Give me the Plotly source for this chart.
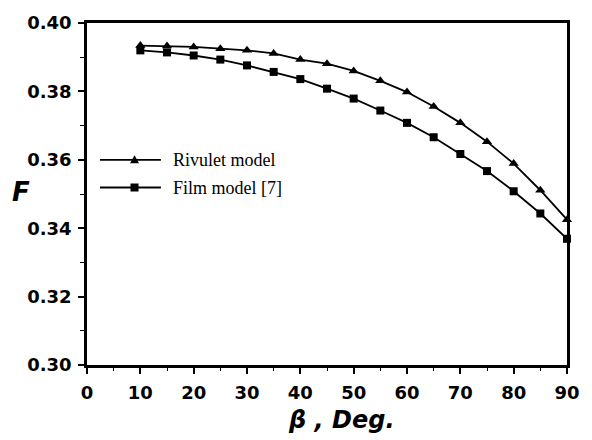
import plotly.graph_objects as go

# Inclination angle beta (degrees) and the factor F for both models
beta_deg = [10, 15, 20, 25, 30, 35, 40, 45, 50, 55, 60, 65, 70, 75, 80, 85, 90]
f_rivulet = [0.3934, 0.3933, 0.3930, 0.3925, 0.3920, 0.3911, 0.3893, 0.3881, 0.3860,
             0.3831, 0.3798, 0.3756, 0.3708, 0.3653, 0.3589, 0.3511, 0.3425]
f_film = [0.3920, 0.3914, 0.3905, 0.3893, 0.3876, 0.3857, 0.3836, 0.3808, 0.3779,
          0.3744, 0.3708, 0.3666, 0.3617, 0.3567, 0.3508, 0.3443, 0.3369]

series_names = ["Rivulet model", "Film model [7]"]
x_ticks = [0, 10, 20, 30, 40, 50, 60, 70, 80, 90]
y_ticks = [0.30, 0.32, 0.34, 0.36, 0.38, 0.40]

tick_font = dict(family="DejaVu Sans", size=18, color="black", weight="bold")

fig = go.Figure()
fig.add_trace(go.Scatter(
    x=beta_deg, y=f_rivulet, mode="lines+markers", name=series_names[0],
    line=dict(color="black", width=1.8),
    marker=dict(symbol="triangle-up", size=9, color="black"),
    cliponaxis=False, showlegend=False,
))
fig.add_trace(go.Scatter(
    x=beta_deg, y=f_film, mode="lines+markers", name=series_names[1],
    line=dict(color="black", width=1.8),
    marker=dict(symbol="square", size=8, color="black"),
    cliponaxis=False, showlegend=False,
))

# Hand-drawn legend keys: a line with a marker in the middle, plus a serif label
legend_rows = [(0.600, "triangle"), (0.519, "square")]
shapes = []
annotations = []
for (ypos, sym), name in zip(legend_rows, series_names):
    shapes.append(dict(type="line", xref="paper", yref="paper",
                       x0=0.027, x1=0.154, y0=ypos, y1=ypos,
                       line=dict(color="black", width=1.8)))
    if sym == "triangle":
        path = "M -4.5 -3.5 L 4.5 -3.5 L 0 4.5 Z"
    else:
        path = "M -4 -4 L 4 -4 L 4 4 L -4 4 Z"
    shapes.append(dict(type="path", xref="paper", yref="paper",
                       xsizemode="pixel", ysizemode="pixel",
                       xanchor=0.099, yanchor=ypos, path=path,
                       fillcolor="black", line=dict(color="black", width=0)))
    annotations.append(dict(xref="paper", yref="paper", x=0.175, y=ypos,
                            xanchor="left", yanchor="middle", showarrow=False,
                            text=name,
                            font=dict(family="Liberation Serif", size=18, color="black")))

# Axis titles
annotations.append(dict(xref="paper", yref="paper", x=-0.1376, y=0.507,
                        xanchor="center", yanchor="middle", showarrow=False,
                        text="<b><i>F</i></b>",
                        font=dict(family="DejaVu Sans", size=26, color="black")))
annotations.append(dict(xref="paper", yref="paper", x=0.530, y=-0.160,
                        xanchor="center", yanchor="middle", showarrow=False,
                        text="<b><i>β , Deg.</i></b>",
                        font=dict(family="DejaVu Sans", size=24, color="black")))

fig.update_layout(
    width=592, height=440,
    margin=dict(l=87, r=18, t=16, b=75),
    paper_bgcolor="white", plot_bgcolor="white",
    shapes=shapes, annotations=annotations,
    xaxis=dict(range=[0, 90], tickvals=x_ticks, ticktext=[str(v) for v in x_ticks],
               showgrid=False, zeroline=False,
               showline=True, linecolor="black", linewidth=2.5, mirror=True,
               ticks="outside", ticklen=6, tickwidth=1.5, tickcolor="black",
               ticklabelstandoff=4,
               minor=dict(dtick=5, ticks="outside", ticklen=3, tickwidth=1.2,
                          tickcolor="black", showgrid=False),
               tickfont=tick_font),
    yaxis=dict(range=[0.30, 0.40], tickvals=y_ticks, tickformat=".2f",
               showgrid=False, zeroline=False,
               showline=True, linecolor="black", linewidth=2.5, mirror=True,
               ticks="outside", ticklen=6, tickwidth=1.5, tickcolor="black",
               ticklabelstandoff=3,
               minor=dict(dtick=0.01, ticks="outside", ticklen=4, tickwidth=1.2,
                          tickcolor="black", showgrid=False),
               tickfont=tick_font),
)

fig.write_html("out.html")
